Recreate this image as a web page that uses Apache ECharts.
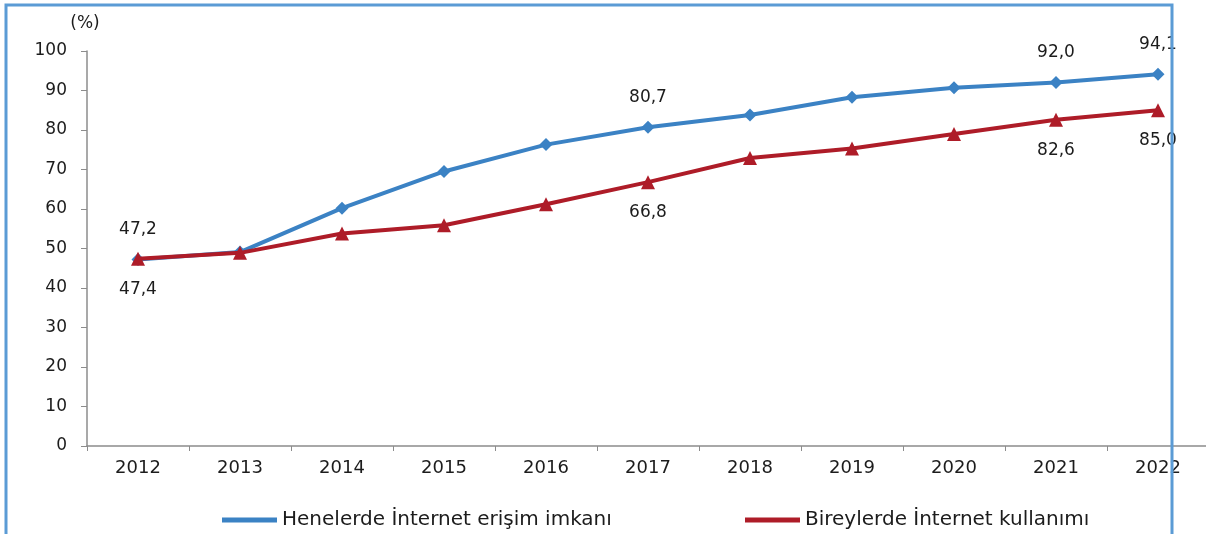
<!DOCTYPE html>
<html>
<head>
<meta charset="utf-8">
<script src="https://cdn.jsdelivr.net/npm/echarts@6/dist/echarts.min.js"></script>
<style>
  html, body { margin: 0; padding: 0; background: #fff; }
  #chart { width: 1206px; height: 534px; }
</style>
</head>
<body>
<div id="chart"></div>
<script>
var years = ['2012', '2013', '2014', '2015', '2016', '2017', '2018', '2019', '2020', '2021', '2022'];
var householdAccess = [47.2, 49.1, 60.2, 69.5, 76.3, 80.7, 83.8, 88.3, 90.7, 92.0, 94.1];
var individualUse = [47.4, 48.9, 53.8, 55.9, 61.2, 66.8, 72.9, 75.3, 79.0, 82.6, 85.0];
var labeledIdx = [0, 5, 9, 10];
var yTicks = [0, 10, 20, 30, 40, 50, 60, 70, 80, 90, 100];

var FONT = 'DejaVu Sans';
var TXT = '#1c1c1c';
var BLUE = '#3b82c4';
var RED = '#ae1c28';

function fmt(v) {
	return v.toFixed(1).replace('.', ',');
}

function withLabels(values, pos) {
	return values.map(function (v, i) {
		if (labeledIdx.indexOf(i) < 0) return v;
		return {
			value: v,
			label: {
				show: true,
				position: pos,
				distance: 15,
				formatter: function (p) { return fmt(p.value); },
				fontFamily: FONT,
				fontSize: 17,
				color: TXT
			}
		};
	});
}

var chart = echarts.init(document.getElementById('chart'));

var option = {
	backgroundColor: '#fff',
	animation: false,
	grid: {
		left: 87,
		right: -3,
		top: 51,
		bottom: 88,
		outerBoundsMode: 'none'
	},
	legend: [{
		left: 217,
		top: 505,
		data: ['Henelerde İnternet erişim imkanı'],
		icon: 'rect',
		itemWidth: 55,
		itemHeight: 5,
		textStyle: { fontFamily: FONT, fontSize: 20, color: TXT }
	}, {
		left: 740,
		top: 505,
		data: ['Bireylerde İnternet kullanımı'],
		icon: 'rect',
		itemWidth: 55,
		itemHeight: 5,
		textStyle: { fontFamily: FONT, fontSize: 20, color: TXT }
	}],
	xAxis: {
		type: 'category',
		data: years,
		boundaryGap: true,
		axisLine: { lineStyle: { color: '#8c8c8c', width: 1.5 } },
		axisTick: { show: true, length: 5, lineStyle: { color: '#8c8c8c' } },
		axisLabel: { margin: 13, fontFamily: FONT, fontSize: 18, color: TXT }
	},
	yAxis: {
		type: 'value',
		min: yTicks[0],
		max: yTicks[yTicks.length - 1],
		interval: 10,
		name: '(%)',
		nameLocation: 'end',
		nameGap: 19,
		nameTextStyle: { fontFamily: FONT, fontSize: 17, color: TXT, padding: [0, 4, 0, 0] },
		axisLine: { show: true, lineStyle: { color: '#8c8c8c', width: 1.5 } },
		axisTick: { show: true, length: 6, lineStyle: { color: '#8c8c8c' } },
		splitLine: { show: false },
		axisLabel: { margin: 20, fontFamily: FONT, fontSize: 17, color: TXT }
	},
	series: [{
		name: 'Henelerde İnternet erişim imkanı',
		type: 'line',
		data: withLabels(householdAccess, 'top'),
		symbol: 'diamond',
		symbolSize: 13,
		lineStyle: { color: BLUE, width: 4 },
		itemStyle: { color: BLUE },
		z: 3
	}, {
		name: 'Bireylerde İnternet kullanımı',
		type: 'line',
		data: withLabels(individualUse, 'bottom'),
		symbol: 'triangle',
		symbolSize: 14,
		lineStyle: { color: RED, width: 4 },
		itemStyle: { color: RED },
		z: 4
	}],
	graphic: [{
		type: 'polyline',
		z: 100,
		shape: { points: [[6, 534], [6, 5], [1172, 5], [1172, 534]] },
		style: { stroke: '#5b9bd5', lineWidth: 3, fill: null }
	}]
};

chart.setOption(option);
</script>
</body>
</html>
